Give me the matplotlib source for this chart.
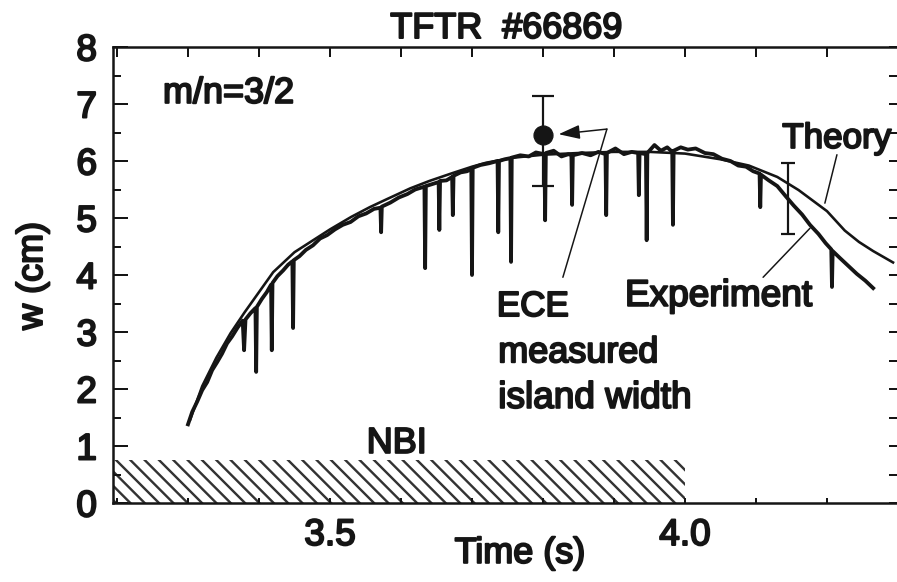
import matplotlib
matplotlib.use("Agg")
import matplotlib.pyplot as plt
import matplotlib.patheffects as pe
from matplotlib.ticker import MultipleLocator, FixedLocator, NullFormatter

# ---------------- data ----------------
theory_t = [3.303, 3.320, 3.340, 3.360, 3.380, 3.400, 3.420, 3.450, 3.480, 3.500,
            3.530, 3.556, 3.580, 3.613, 3.640, 3.673, 3.700, 3.720, 3.760, 3.800,
            3.850, 3.900, 3.950, 4.000, 4.050, 4.090, 4.130, 4.160, 4.200, 4.225,
            4.245, 4.265, 4.293]
theory_w = [1.46, 2.05, 2.55, 2.98, 3.35, 3.70, 4.05, 4.40, 4.64, 4.80,
            5.02, 5.19, 5.33, 5.52, 5.65, 5.79, 5.90, 5.97, 6.06, 6.11,
            6.14, 6.16, 6.16, 6.13, 6.03, 5.92, 5.72, 5.49, 5.12, 4.78,
            4.58, 4.42, 4.22]

exp_t = [3.300, 3.306, 3.313, 3.320, 3.327, 3.334, 3.341, 3.348, 3.355, 3.362,
         3.370, 3.377, 3.379, 3.381, 3.388, 3.395, 3.396, 3.397, 3.404, 3.411,
         3.417, 3.418, 3.419, 3.426, 3.434, 3.441, 3.447, 3.448, 3.449, 3.457,
         3.466, 3.476, 3.486, 3.496, 3.507, 3.518, 3.529, 3.540, 3.551, 3.562,
         3.571, 3.572, 3.573, 3.585, 3.597, 3.609, 3.620, 3.633, 3.634, 3.635,
         3.645, 3.653, 3.654, 3.655, 3.664, 3.672, 3.673, 3.674, 3.684, 3.693,
         3.699, 3.700, 3.701, 3.712, 3.724, 3.736, 3.737, 3.738, 3.746, 3.754,
         3.755, 3.756, 3.768, 3.780, 3.790, 3.802, 3.803, 3.804, 3.815, 3.826,
         3.836, 3.840, 3.841, 3.842, 3.855, 3.867, 3.878, 3.888, 3.889, 3.890,
         3.902, 3.914, 3.925, 3.934, 3.935, 3.936, 3.945, 3.946, 3.947, 3.957,
         3.966, 3.975, 3.982, 3.983, 3.984, 3.994, 4.004, 4.015, 4.028, 4.040,
         4.052, 4.064, 4.075, 4.086, 4.096, 4.105, 4.106, 4.107, 4.118, 4.130,
         4.142, 4.153, 4.165, 4.176, 4.188, 4.198, 4.206, 4.207, 4.208, 4.218,
         4.230, 4.242, 4.254, 4.265]
exp_w = [1.38, 1.60, 1.78, 1.98, 2.12, 2.33, 2.47, 2.62, 2.80, 2.92,
         3.08, 3.20, 2.68, 3.22, 3.33, 3.42, 2.30, 3.44, 3.58, 3.70,
         3.83, 2.68, 3.86, 3.98, 4.08, 4.18, 4.24, 3.07, 4.26, 4.33,
         4.44, 4.52, 4.64, 4.70, 4.80, 4.88, 4.93, 5.03, 5.08, 5.16,
         5.18, 4.75, 5.20, 5.27, 5.36, 5.42, 5.50, 5.55, 4.12, 5.56,
         5.60, 5.63, 4.79, 5.65, 5.66, 5.72, 5.05, 5.74, 5.80, 5.82,
         5.86, 4.00, 5.88, 5.93, 5.96, 6.00, 4.75, 6.00, 6.03, 6.05,
         4.23, 6.06, 6.10, 6.08, 6.15, 6.12, 4.96, 6.14, 6.18, 6.08,
         6.12, 6.10, 5.23, 6.10, 6.14, 6.10, 6.16, 6.12, 5.05, 6.14,
         6.22, 6.12, 6.16, 6.14, 5.40, 6.14, 6.12, 4.61, 6.14, 6.28,
         6.18, 6.24, 6.16, 4.88, 6.18, 6.24, 6.20, 6.22, 6.14, 6.12,
         6.04, 6.00, 5.92, 5.90, 5.82, 5.78, 5.19, 5.76, 5.66, 5.56,
         5.38, 5.22, 5.06, 4.88, 4.72, 4.56, 4.45, 3.79, 4.42, 4.30,
         4.16, 4.02, 3.90, 3.77]

ece_t = [3.80]
ece_w = [6.45]
ece_err_lo = [0.89]
ece_err_hi = [0.69]

late_t = [4.145]
late_w = [5.34]
late_err = [0.62]

nbi_t = [3.19, 4.00]
nbi_w = [0.75, 0.75]

xtick_vals = [3.5, 4.0]
xtick_labels = ["3.5", "4.0"]

# ---------------- style ----------------
DPI = 86
W_PX, H_PX = 897, 582


def P(px):
    return px * 72.0 / DPI


INK = "#151515"
plt.rcParams["font.family"] = ["Liberation Sans", "DejaVu Sans"]
plt.rcParams["font.weight"] = "normal"
plt.rcParams["hatch.linewidth"] = P(2.4)
plt.rcParams["hatch.color"] = "#333333"
FS = P(36)
FS_BIG = P(37)
BOLD = [pe.withStroke(linewidth=P(2.0), foreground=INK)]

fig = plt.figure(figsize=(W_PX / DPI, H_PX / DPI), dpi=DPI)
ax = fig.add_axes([113 / W_PX, 1 - 503 / H_PX, (897 - 113) / W_PX, (503 - 47) / H_PX])
ax.set_xlim(3.5 - 217 / 710, 3.5 + 567 / 710)
ax.set_ylim(0, 8)

# NBI hatched bar
ax.fill_between(nbi_t, 0, nbi_w, facecolor="none", edgecolor="#333333",
                linewidth=0, hatch="\\\\", zorder=1)

# curves
ax.plot(theory_t, theory_w, color=INK, lw=P(2.6), zorder=3)
ax.plot(exp_t, exp_w, color=INK, lw=P(3.8), zorder=3)

# error bars
ax.errorbar(ece_t, ece_w, yerr=[ece_err_lo, ece_err_hi], fmt="o", ms=P(19),
            color=INK, ecolor=INK, elinewidth=P(2.2), capsize=P(11), capthick=P(2.2),
            zorder=4)
ax.errorbar(late_t, late_w, yerr=[late_err], fmt="none", ecolor=INK,
            elinewidth=P(2.2), capsize=P(7), capthick=P(2.2), zorder=4)

# annotation leader lines
line_kw = dict(arrowstyle="-", color=INK, lw=P(1.5), shrinkA=0, shrinkB=0)
ax.annotate("", xy=(3.890, 6.56), xytext=(3.828, 3.96), arrowprops=line_kw)
ax.annotate("", xy=(3.822, 6.47), xytext=(3.890, 6.56),
            arrowprops=dict(arrowstyle="-|>,head_length=0.9,head_width=0.3",
                            color=INK, lw=P(1.5), shrinkA=0, shrinkB=0,
                            mutation_scale=P(20)))
ax.annotate("", xy=(4.176, 4.82), xytext=(4.110, 3.96), arrowprops=line_kw)
ax.annotate("", xy=(4.214, 6.11), xytext=(4.197, 5.26), arrowprops=line_kw)

# texts
tkw = dict(color=INK, va="baseline", path_effects=BOLD)
ax.text(3.2648, 7.02, "m/n=3/2", ha="left", fontsize=FS, **tkw)
ax.text(3.594, 0.88, "NBI", ha="center", fontsize=FS, **tkw)
ax.text(3.735, 3.28, "ECE", ha="left", fontsize=P(35), **tkw)
ax.text(3.737, 2.47, "measured", ha="left", fontsize=FS, **tkw)
ax.text(3.737, 1.67, "island width", ha="left", fontsize=FS_BIG, **tkw)
ax.text(3.9155, 3.46, "Experiment", ha="left", fontsize=FS_BIG, **tkw)
ax.text(4.137, 6.23, "Theory", ha="left", fontsize=P(35), **tkw)

fig.text(506.5 / W_PX, 1 - 38 / H_PX, "TFTR  #66869", ha="center", va="baseline",
         color=INK, fontsize=FS, path_effects=BOLD)

# axes labels
ax.set_xlabel("Time (s)", fontsize=FS, color=INK, path_effects=BOLD)
ax.xaxis.set_label_coords(0.519, -0.072)
ax.set_ylabel("w (cm)", fontsize=FS, color=INK, path_effects=BOLD)
ax.yaxis.set_label_coords(-0.0804, 0.498)

# spines
for s in ["left", "top", "bottom"]:
    ax.spines[s].set_linewidth(P(2.5))
    ax.spines[s].set_color(INK)
ax.spines["right"].set_visible(False)

# ticks
ax.xaxis.set_major_locator(FixedLocator(xtick_vals))
ax.set_xticklabels(xtick_labels)
ax.xaxis.set_minor_locator(MultipleLocator(0.1))
ax.yaxis.set_major_locator(MultipleLocator(1))
ax.yaxis.set_minor_locator(MultipleLocator(0.5))
ax.tick_params(which="both", direction="in", width=P(2), color=INK,
               labelcolor=INK, top=False, right=False)
ax.tick_params(axis="x", which="both", length=P(5), pad=P(15), labelsize=FS_BIG)
ax.tick_params(axis="y", which="major", length=P(15), pad=P(16), labelsize=FS_BIG)
ax.tick_params(axis="y", which="minor", length=P(8))

top = ax.secondary_xaxis("top")
top.xaxis.set_major_locator(MultipleLocator(0.1))
top.xaxis.set_major_formatter(NullFormatter())
top.tick_params(direction="in", length=P(10), width=P(2), color=INK)
top.spines["top"].set_visible(False)

rt = ax.secondary_yaxis("right")
rt.yaxis.set_major_locator(MultipleLocator(0.5))
rt.yaxis.set_major_formatter(NullFormatter())
rt.tick_params(direction="in", length=P(8), width=P(2), color=INK)
rt.spines["right"].set_visible(False)

fig.canvas.draw()
for lbl in ax.get_xticklabels() + ax.get_yticklabels():
    lbl.set_path_effects(BOLD)

fig.savefig("out.png", dpi=DPI)
